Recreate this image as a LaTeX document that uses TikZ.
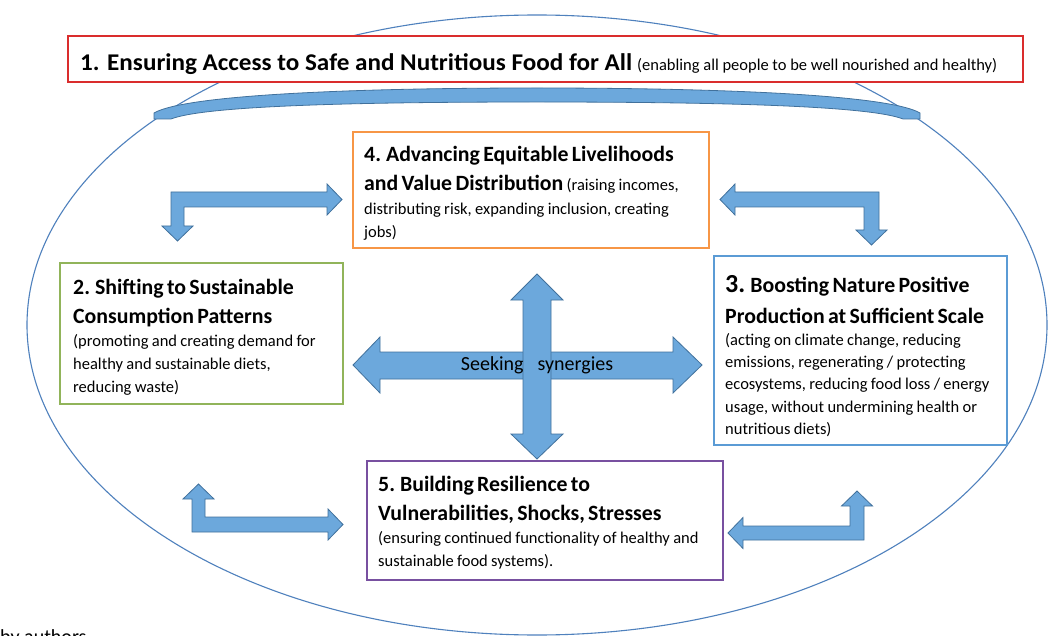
\documentclass[tikz,border=0pt]{standalone}
\usepackage{fontspec}
\setmainfont{Carlito}
\usepackage{graphicx}
\definecolor{arrowfill}{RGB}{108,168,220}
\definecolor{arrowline}{RGB}{65,113,156}
\definecolor{ellline}{RGB}{79,129,189}
\definecolor{bred}{RGB}{218,45,45}
\definecolor{borange}{RGB}{247,150,70}
\definecolor{bgreen}{RGB}{145,180,90}
\definecolor{bblue}{RGB}{91,155,213}
\definecolor{bpurple}{RGB}{120,80,160}
\newcommand\myhead{\fontsize{21.8}{29}\selectfont\bfseries}
\newcommand\mybody{\fontsize{16.5}{23.3}\selectfont\mdseries}
\begin{document}
\begin{tikzpicture}[x=1pt,y=-1pt,
  framebox/.style={draw=#1, line width=1.1pt, fill=white, inner sep=0pt},
  blockarrow/.style={fill=arrowfill, draw=arrowline, line width=0.8pt, line join=miter},
  boxtext/.style={anchor=base west, inner sep=0pt, text width=#1, align=left},
  ellipseline/.style={draw=ellline, line width=1.1pt}]
\useasboundingbox (0,0) rectangle (1048,636);
\clip (0,0) rectangle (1048,636);
\fill[white] (0,0) rectangle (1048,636);

% outer ellipse
\draw[ellipseline] (537,325) ellipse [x radius=510, y radius=310];

% boxes
\node[framebox=bred, minimum width=955pt, minimum height=46pt] (b1) at (545.5,59) {};
\node[framebox=borange, minimum width=356pt, minimum height=116pt] (b4) at (531,190) {};
\node[framebox=bgreen, minimum width=283pt, minimum height=141pt] (b2) at (201.5,333.5) {};
\node[framebox=bblue, minimum width=293pt, minimum height=189pt] (b3) at (860.5,350.5) {};
\node[framebox=bpurple, minimum width=356pt, minimum height=119pt] (b5) at (545,520.5) {};

% curved band under box 1
\draw[blockarrow] (154,119) -- (154,113)
  .. controls (185,95) and (350,88) .. (537,88)
  .. controls (724,88) and (889,95) .. (920,113)
  -- (920,119) -- (903,119)
  .. controls (870,106) and (724,102) .. (537,102)
  .. controls (350,102) and (204,106) .. (171,119) -- cycle;

% bent arrows
\draw[blockarrow] (171,192) -- (327,192) -- (327,184) -- (342,199.5) -- (327,215) -- (327,207)
  -- (184,207) -- (184,226) -- (193,226) -- (177.5,241) -- (162,226) -- (171,226) -- cycle;
\draw[blockarrow] (879,192) -- (735,192) -- (735,184) -- (720,199.5) -- (735,215) -- (735,207)
  -- (864,207) -- (864,230) -- (856,230) -- (871.5,245) -- (887,230) -- (879,230) -- cycle;
\draw[blockarrow] (192,532) -- (192,499) -- (183,499) -- (198.5,484) -- (214,499) -- (205,499)
  -- (205,517) -- (328,517) -- (328,509) -- (343,524.5) -- (328,540) -- (328,532) -- cycle;
\draw[blockarrow] (864,540) -- (743,540) -- (743,548.5) -- (728,533) -- (743,517.5) -- (743,526)
  -- (850,526) -- (850,506) -- (841.5,506) -- (857,491) -- (872.5,506) -- (864,506) -- cycle;

% central cross
\draw[blockarrow] (353,365) -- (380,337) -- (380,352) -- (673,352) -- (673,337) -- (702,365)
  -- (673,393) -- (673,379) -- (380,379) -- (380,393) -- cycle;
\draw[blockarrow] (537,274) -- (563,300) -- (551,300) -- (551,434) -- (563,434) -- (537,459)
  -- (511,434) -- (523,434) -- (523,300) -- (511,300) -- cycle;
\node[anchor=base, inner sep=0pt, font=\fontsize{20}{24}\selectfont] (syn) at (537,370)
  {Seeking\hspace{14pt}synergies};

% texts
\node[anchor=base west, inner sep=0pt] (t1) at (80,70.5)
  {\resizebox{552pt}{\height}{\fontsize{24}{28}\selectfont\bfseries 1. Ensuring Access to Safe and Nutritious Food for All}\hspace{5pt}\resizebox{360pt}{\height}{\fontsize{16.5}{20}\selectfont (enabling all people to be well nourished and healthy)}};

\node[boxtext=400pt] (t4) at (364,162)
  {{\myhead 4. Advancing Equitable Livelihoods\par
    and Value Distribution {\mdseries\fontsize{16.5}{29}\selectfont (raising incomes,}\par}
   {\mybody distributing risk, expanding inclusion, creating\par jobs)\par}};

\node[boxtext=400pt] (t2) at (73,294)
  {{\myhead 2. Shifting to Sustainable\par Consumption Patterns\par}
   {\mybody (promoting and creating demand for\par healthy and sustainable diets,\par reducing waste)\par}};

\node[boxtext=400pt] (t3) at (725,292)
  {{\myhead {\fontsize{26}{29}\selectfont 3.} Boosting Nature Positive\par}
   {\fontsize{21.8}{31}\selectfont\bfseries Production at Sufficient Scale\par}
   {\fontsize{16.5}{22.3}\selectfont (acting on climate change, reducing\par
    emissions, regenerating / protecting\par
    ecosystems, reducing food loss / energy\par
    usage, without undermining health or\par
    nutritious diets)\par}};

\node[boxtext=400pt] (t5) at (378,491)
  {{\myhead 5. Building Resilience to\par Vulnerabilities, Shocks, Stresses\par}
   {\fontsize{16.5}{23}\selectfont (ensuring continued functionality of healthy and\par
    sustainable food systems).\par}};

\node[anchor=base west, inner sep=0pt, font=\fontsize{20}{24}\selectfont] (src) at (0,643) {by authors};
\end{tikzpicture}
\end{document}
